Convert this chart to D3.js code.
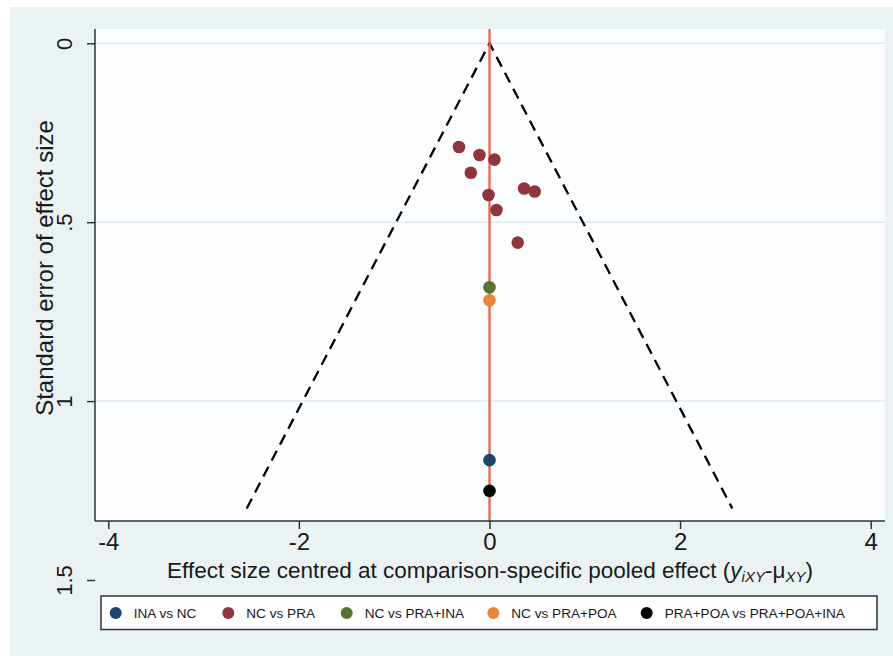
<!DOCTYPE html>
<html>
<head>
<meta charset="utf-8">
<script src="https://cdn.jsdelivr.net/npm/d3@7"></script>
<style>
  body { margin: 0; background: #fff; }
  svg { display: block; font-family: 'Liberation Sans', Arial, sans-serif; }
</style>
</head>
<body>
<script>
'use strict'

const width = 893
const height = 656

// comparisons shown in the legend
const groups = ['INA vs NC', 'NC vs PRA', 'NC vs PRA+INA', 'NC vs PRA+POA', 'PRA+POA vs PRA+POA+INA']
const groupColors = ['#1a476f', '#90353b', '#55752f', '#e8873a', '#000000']

// centred effect size and its standard error, one entry per study
const effect = [0.0, -0.32, -0.105, 0.052, -0.196, -0.01, 0.073, 0.363, 0.474, 0.296, 0.0, 0.0, 0.0]
const stdErr = [1.165, 0.29, 0.312, 0.325, 0.362, 0.424, 0.466, 0.406, 0.414, 0.557, 0.682, 0.718, 1.251]
const group = [0, 1, 1, 1, 1, 1, 1, 1, 1, 1, 2, 3, 4]

const xTicks = [-4, -2, 0, 2, 4]
const yTicks = [0, 0.5, 1, 1.5]
const yTickLabels = ['0', '.5', '1', '1.5']

const seMax = 1.3

const x = d3.scaleLinear().domain([-4, 4]).range([108.3, 870.7])
const y = d3.scaleLinear().domain([0, 1.5]).range([43.3, 580])

const plot = { left: 95, right: 885, top: 29, bottom: 521 }

const svg = d3.select('body').append('svg')
  .attr('width', width)
  .attr('height', height)

// outer panel
svg.append('rect')
  .attr('x', 10).attr('y', 7)
  .attr('width', width - 10).attr('height', height - 7)
  .attr('fill', '#eaf2f3')

svg.append('rect')
  .attr('x', plot.left).attr('y', plot.top)
  .attr('width', plot.right - plot.left).attr('height', plot.bottom - plot.top)
  .attr('fill', '#fcfdfe')

// grid lines
svg.append('g').selectAll('line')
  .data(yTicks.filter(d => y(d) < plot.bottom))
  .enter().append('line')
  .attr('x1', plot.left).attr('x2', plot.right)
  .attr('y1', d => y(d)).attr('y2', d => y(d))
  .attr('stroke', '#dfeaef')
  .attr('stroke-width', 1.5)

// pseudo confidence limits
const funnel = d3.line().x(d => x(d[0])).y(d => y(d[1]))
svg.append('path')
  .attr('d', funnel([[-1.96 * seMax, seMax], [0, 0], [1.96 * seMax, seMax]]))
  .attr('fill', 'none')
  .attr('stroke', '#000')
  .attr('stroke-width', 2.3)
  .attr('stroke-dasharray', '11,7')

// line of no effect
svg.append('line')
  .attr('x1', x(0)).attr('x2', x(0))
  .attr('y1', plot.top).attr('y2', plot.bottom)
  .attr('stroke', '#f25a40')
  .attr('stroke-width', 2.2)

// studies
svg.append('g').selectAll('circle')
  .data(effect.map((d, i) => ({ x: d, se: stdErr[i], g: group[i] })))
  .enter().append('circle')
  .attr('cx', d => x(d.x))
  .attr('cy', d => y(d.se))
  .attr('r', 6.3)
  .attr('fill', d => groupColors[d.g])

// x axis
const xAxis = svg.append('g')
  .attr('transform', 'translate(0,' + plot.bottom + ')')
  .call(d3.axisBottom(x).tickValues(xTicks).tickSize(8).tickPadding(4).tickFormat(d3.format('d')))
xAxis.select('.domain').remove()
xAxis.append('line')
  .attr('x1', plot.left).attr('x2', plot.right)
  .attr('stroke', '#23373a').attr('stroke-width', 1.5)
xAxis.selectAll('.tick line').attr('stroke', '#23373a').attr('stroke-width', 1.5)
xAxis.selectAll('.tick text')
  .attr('font-size', 24).attr('fill', '#1a1a1a')
  .attr('font-family', 'Liberation Sans, Arial, sans-serif')
  .text(d => d < 0 ? '-' + Math.abs(d) : d)

// y axis
const yAxis = svg.append('g')
  .attr('transform', 'translate(' + plot.left + ',0)')
  .call(d3.axisLeft(y).tickValues(yTicks).tickSize(8).tickFormat((d, i) => yTickLabels[i]))
yAxis.select('.domain').remove()
yAxis.append('line')
  .attr('y1', plot.top).attr('y2', plot.bottom)
  .attr('stroke', '#23373a').attr('stroke-width', 1.5)
yAxis.selectAll('.tick line').attr('stroke', '#23373a').attr('stroke-width', 1.5).attr('x2', -8)
yAxis.selectAll('.tick text')
  .attr('font-size', 22).attr('fill', '#1a1a1a')
  .attr('font-family', 'Liberation Sans, Arial, sans-serif')
  .attr('x', 0).attr('dy', 0)
  .attr('text-anchor', 'middle')
  .attr('transform', 'translate(-23,0) rotate(-90)')

// axis titles
svg.append('text')
  .attr('transform', 'translate(53,268) rotate(-90)')
  .attr('text-anchor', 'middle')
  .attr('font-size', 24)
  .attr('fill', '#1a1a1a')
  .text('Standard error of effect size')

const xTitle = svg.append('text')
  .attr('x', 490).attr('y', 578)
  .attr('text-anchor', 'middle')
  .attr('font-size', 22.5)
  .attr('fill', '#1a1a1a')
xTitle.append('tspan').text('Effect size centred at comparison-specific pooled effect (')
xTitle.append('tspan').attr('font-style', 'italic').text('y')
xTitle.append('tspan').attr('font-style', 'italic').attr('font-size', 15).attr('dy', 4).text('iXY')
xTitle.append('tspan').attr('dy', -4).text('-μ')
xTitle.append('tspan').attr('font-style', 'italic').attr('font-size', 15).attr('dy', 4).text('XY')
xTitle.append('tspan').attr('dy', -4).text(')')

// legend
svg.append('rect')
  .attr('x', 101).attr('y', 596)
  .attr('width', 776).attr('height', 33.5)
  .attr('fill', '#fff')
  .attr('stroke', '#23373a')
  .attr('stroke-width', 1.5)

const legendX = [115.7, 228.3, 346.7, 493.3, 646.7]
const legend = svg.append('g').selectAll('g')
  .data(groups)
  .enter().append('g')
  .attr('transform', (d, i) => 'translate(' + legendX[i] + ',613)')
legend.append('circle')
  .attr('r', 6)
  .attr('fill', (d, i) => groupColors[i])
legend.append('text')
  .attr('x', 18)
  .attr('dy', '0.35em')
  .attr('font-size', 13.6)
  .attr('fill', '#1a1a1a')
  .text(d => d)
</script>
</body>
</html>
